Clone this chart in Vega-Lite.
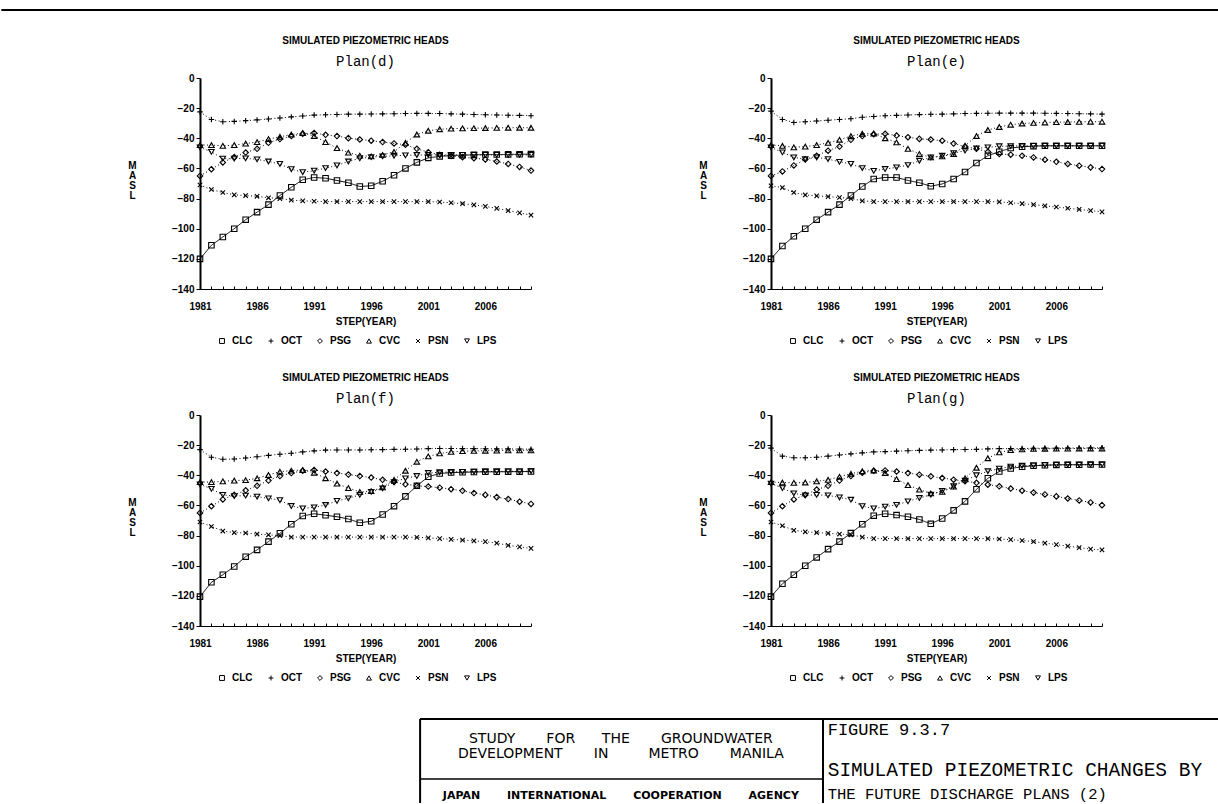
{
"$schema": "https://vega.github.io/schema/vega-lite/v6.json",
"background": "white",
"padding": {"left": 0, "top": 9, "right": 0, "bottom": 0},
"datasets": {"heads": [
{"p":"d","yr":1981,"CLC":-120,"OCT":-22.5,"PSG":-65,"CVC":-44.5,"PSN":-71,"LPS":-46},
{"p":"d","yr":1982,"CLC":-111,"OCT":-27.5,"PSG":-60.5,"CVC":-44.5,"PSN":-74,"LPS":-49},
{"p":"d","yr":1983,"CLC":-105.5,"OCT":-29,"PSG":-56,"CVC":-45,"PSN":-76,"LPS":-53.5},
{"p":"d","yr":1984,"CLC":-100,"OCT":-28.8,"PSG":-52.5,"CVC":-44.5,"PSN":-77.5,"LPS":-53.5},
{"p":"d","yr":1985,"CLC":-94,"OCT":-28.3,"PSG":-49.5,"CVC":-43.5,"PSN":-78,"LPS":-53.3},
{"p":"d","yr":1986,"CLC":-89,"OCT":-27.8,"PSG":-47,"CVC":-42.5,"PSN":-78.5,"LPS":-54},
{"p":"d","yr":1987,"CLC":-84,"OCT":-27.2,"PSG":-43,"CVC":-40.5,"PSN":-79.5,"LPS":-55.4},
{"p":"d","yr":1988,"CLC":-78,"OCT":-26.5,"PSG":-40.5,"CVC":-39,"PSN":-80,"LPS":-57},
{"p":"d","yr":1989,"CLC":-72.5,"OCT":-25.8,"PSG":-38.5,"CVC":-37.5,"PSN":-81,"LPS":-60.5},
{"p":"d","yr":1990,"CLC":-67.5,"OCT":-25.2,"PSG":-37,"CVC":-36.5,"PSN":-81.5,"LPS":-62.5},
{"p":"d","yr":1991,"CLC":-66,"OCT":-24.6,"PSG":-36.5,"CVC":-38.5,"PSN":-81.8,"LPS":-61.5},
{"p":"d","yr":1992,"CLC":-66.5,"OCT":-24.4,"PSG":-37.7,"CVC":-42.5,"PSN":-82,"LPS":-59.8},
{"p":"d","yr":1993,"CLC":-68,"OCT":-24.2,"PSG":-38.5,"CVC":-46.5,"PSN":-82,"LPS":-58},
{"p":"d","yr":1994,"CLC":-69.5,"OCT":-24,"PSG":-39.9,"CVC":-49.5,"PSN":-82,"LPS":-55.4},
{"p":"d","yr":1995,"CLC":-72,"OCT":-24,"PSG":-40.8,"CVC":-51.5,"PSN":-82,"LPS":-53.3},
{"p":"d","yr":1996,"CLC":-71.5,"OCT":-23.9,"PSG":-41.6,"CVC":-52,"PSN":-82,"LPS":-52.5},
{"p":"d","yr":1997,"CLC":-68.5,"OCT":-23.8,"PSG":-42.5,"CVC":-51,"PSN":-82,"LPS":-52},
{"p":"d","yr":1998,"CLC":-64.5,"OCT":-23.7,"PSG":-43.4,"CVC":-49,"PSN":-82,"LPS":-51.6},
{"p":"d","yr":1999,"CLC":-60,"OCT":-23.6,"PSG":-44.3,"CVC":-43,"PSN":-82,"LPS":-51.3},
{"p":"d","yr":2000,"CLC":-56,"OCT":-23.5,"PSG":-47,"CVC":-37.5,"PSN":-82,"LPS":-51.1},
{"p":"d","yr":2001,"CLC":-53,"OCT":-23.5,"PSG":-49.2,"CVC":-35,"PSN":-82,"LPS":-51},
{"p":"d","yr":2002,"CLC":-52,"OCT":-23.6,"PSG":-51,"CVC":-34,"PSN":-82.3,"LPS":-51},
{"p":"d","yr":2003,"CLC":-51.5,"OCT":-23.8,"PSG":-51.8,"CVC":-33.6,"PSN":-82.8,"LPS":-51},
{"p":"d","yr":2004,"CLC":-51.2,"OCT":-24,"PSG":-52.5,"CVC":-33.4,"PSN":-83.4,"LPS":-51},
{"p":"d","yr":2005,"CLC":-51,"OCT":-24.2,"PSG":-53.2,"CVC":-33.3,"PSN":-84.2,"LPS":-51},
{"p":"d","yr":2006,"CLC":-50.8,"OCT":-24.4,"PSG":-54,"CVC":-33.2,"PSN":-85.2,"LPS":-51},
{"p":"d","yr":2007,"CLC":-50.8,"OCT":-24.5,"PSG":-55.4,"CVC":-33.1,"PSN":-86.5,"LPS":-51},
{"p":"d","yr":2008,"CLC":-50.7,"OCT":-24.7,"PSG":-57,"CVC":-33,"PSN":-88,"LPS":-51},
{"p":"d","yr":2009,"CLC":-50.6,"OCT":-24.8,"PSG":-59,"CVC":-33,"PSN":-89.5,"LPS":-51},
{"p":"d","yr":2010,"CLC":-50.5,"OCT":-25,"PSG":-61.4,"CVC":-33,"PSN":-91,"LPS":-51},
{"p":"e","yr":1981,"CLC":-120,"OCT":-22,"PSG":-65,"CVC":-44.5,"PSN":-71.5,"LPS":-46},
{"p":"e","yr":1982,"CLC":-111.5,"OCT":-27.5,"PSG":-62,"CVC":-45,"PSN":-72.7,"LPS":-49.3},
{"p":"e","yr":1983,"CLC":-105,"OCT":-29.5,"PSG":-58,"CVC":-46,"PSN":-76,"LPS":-52.7},
{"p":"e","yr":1984,"CLC":-100,"OCT":-29,"PSG":-54,"CVC":-45.5,"PSN":-77.6,"LPS":-53.8},
{"p":"e","yr":1985,"CLC":-94,"OCT":-28.5,"PSG":-51.6,"CVC":-44.5,"PSN":-78.2,"LPS":-52.7},
{"p":"e","yr":1986,"CLC":-89,"OCT":-28,"PSG":-48.2,"CVC":-43,"PSN":-78.7,"LPS":-53.8},
{"p":"e","yr":1987,"CLC":-84,"OCT":-27.5,"PSG":-45.5,"CVC":-41,"PSN":-79.3,"LPS":-55.6},
{"p":"e","yr":1988,"CLC":-78,"OCT":-27,"PSG":-41,"CVC":-38.5,"PSN":-80,"LPS":-57},
{"p":"e","yr":1989,"CLC":-72,"OCT":-26,"PSG":-38.5,"CVC":-37,"PSN":-81.5,"LPS":-59.8},
{"p":"e","yr":1990,"CLC":-67,"OCT":-25.5,"PSG":-37.3,"CVC":-36.8,"PSN":-82,"LPS":-61.6},
{"p":"e","yr":1991,"CLC":-66,"OCT":-25,"PSG":-37,"CVC":-40,"PSN":-82,"LPS":-60.4},
{"p":"e","yr":1992,"CLC":-66,"OCT":-24.8,"PSG":-38.2,"CVC":-42.7,"PSN":-82,"LPS":-59.3},
{"p":"e","yr":1993,"CLC":-68,"OCT":-24.5,"PSG":-39.3,"CVC":-47,"PSN":-82,"LPS":-57.8},
{"p":"e","yr":1994,"CLC":-69.5,"OCT":-24.3,"PSG":-40.4,"CVC":-50.4,"PSN":-82,"LPS":-54.9},
{"p":"e","yr":1995,"CLC":-71.8,"OCT":-24.1,"PSG":-40.8,"CVC":-52.7,"PSN":-82,"LPS":-52.7},
{"p":"e","yr":1996,"CLC":-70.3,"OCT":-24,"PSG":-41.6,"CVC":-52,"PSN":-82,"LPS":-51.6},
{"p":"e","yr":1997,"CLC":-67,"OCT":-23.8,"PSG":-43.5,"CVC":-50.4,"PSN":-82,"LPS":-49.8},
{"p":"e","yr":1998,"CLC":-62.4,"OCT":-23.6,"PSG":-45.5,"CVC":-45,"PSN":-82,"LPS":-48.2},
{"p":"e","yr":1999,"CLC":-56.4,"OCT":-23.5,"PSG":-47,"CVC":-38.5,"PSN":-82,"LPS":-46.7},
{"p":"e","yr":2000,"CLC":-51.6,"OCT":-23.4,"PSG":-49,"CVC":-34.5,"PSN":-82,"LPS":-46},
{"p":"e","yr":2001,"CLC":-48.9,"OCT":-23.3,"PSG":-50.4,"CVC":-32.5,"PSN":-82.2,"LPS":-45.3},
{"p":"e","yr":2002,"CLC":-46.5,"OCT":-23.3,"PSG":-50.9,"CVC":-31,"PSN":-82.8,"LPS":-45.2},
{"p":"e","yr":2003,"CLC":-45.6,"OCT":-23.3,"PSG":-51.6,"CVC":-30.2,"PSN":-83.4,"LPS":-45},
{"p":"e","yr":2004,"CLC":-45.2,"OCT":-23.3,"PSG":-52.7,"CVC":-29.8,"PSN":-84,"LPS":-45},
{"p":"e","yr":2005,"CLC":-45,"OCT":-23.4,"PSG":-54.2,"CVC":-29.5,"PSN":-84.8,"LPS":-45},
{"p":"e","yr":2006,"CLC":-45,"OCT":-23.5,"PSG":-55.6,"CVC":-29.3,"PSN":-85.6,"LPS":-45},
{"p":"e","yr":2007,"CLC":-45,"OCT":-23.6,"PSG":-57,"CVC":-29.2,"PSN":-86.4,"LPS":-45},
{"p":"e","yr":2008,"CLC":-45,"OCT":-23.7,"PSG":-58.2,"CVC":-29.1,"PSN":-87.2,"LPS":-45},
{"p":"e","yr":2009,"CLC":-45,"OCT":-23.8,"PSG":-59.3,"CVC":-29,"PSN":-88,"LPS":-45},
{"p":"e","yr":2010,"CLC":-45,"OCT":-24,"PSG":-60.4,"CVC":-29,"PSN":-88.8,"LPS":-44.9},
{"p":"f","yr":1981,"CLC":-120.5,"OCT":-23,"PSG":-65,"CVC":-44.5,"PSN":-71,"LPS":-46},
{"p":"f","yr":1982,"CLC":-111,"OCT":-28,"PSG":-60.5,"CVC":-44.5,"PSN":-74,"LPS":-49},
{"p":"f","yr":1983,"CLC":-106,"OCT":-29.4,"PSG":-56,"CVC":-44,"PSN":-77,"LPS":-53},
{"p":"f","yr":1984,"CLC":-100.5,"OCT":-29.2,"PSG":-53,"CVC":-43.5,"PSN":-78,"LPS":-53.8},
{"p":"f","yr":1985,"CLC":-94,"OCT":-28.5,"PSG":-50,"CVC":-43.2,"PSN":-78.3,"LPS":-53.5},
{"p":"f","yr":1986,"CLC":-89.5,"OCT":-27.7,"PSG":-47,"CVC":-42,"PSN":-79,"LPS":-54.2},
{"p":"f","yr":1987,"CLC":-84,"OCT":-26.8,"PSG":-43.5,"CVC":-39.8,"PSN":-79.5,"LPS":-55.3},
{"p":"f","yr":1988,"CLC":-78.5,"OCT":-26,"PSG":-40.5,"CVC":-37.6,"PSN":-80,"LPS":-56.5},
{"p":"f","yr":1989,"CLC":-72.5,"OCT":-25.4,"PSG":-38.5,"CVC":-36.9,"PSN":-81,"LPS":-60.4},
{"p":"f","yr":1990,"CLC":-67,"OCT":-24.5,"PSG":-37,"CVC":-36.5,"PSN":-81,"LPS":-62},
{"p":"f","yr":1991,"CLC":-65.5,"OCT":-23.8,"PSG":-36.5,"CVC":-38.3,"PSN":-81,"LPS":-61.3},
{"p":"f","yr":1992,"CLC":-66.5,"OCT":-23.3,"PSG":-37.5,"CVC":-42,"PSN":-81,"LPS":-59.7},
{"p":"f","yr":1993,"CLC":-67.5,"OCT":-23.2,"PSG":-38.5,"CVC":-45.5,"PSN":-81,"LPS":-57},
{"p":"f","yr":1994,"CLC":-69,"OCT":-23.2,"PSG":-39.5,"CVC":-48.5,"PSN":-81,"LPS":-55.3},
{"p":"f","yr":1995,"CLC":-71.5,"OCT":-23.2,"PSG":-40.5,"CVC":-51,"PSN":-81,"LPS":-53},
{"p":"f","yr":1996,"CLC":-70.5,"OCT":-23.1,"PSG":-41.5,"CVC":-50.5,"PSN":-81,"LPS":-51},
{"p":"f","yr":1997,"CLC":-66,"OCT":-23,"PSG":-43,"CVC":-48,"PSN":-81,"LPS":-48.7},
{"p":"f","yr":1998,"CLC":-60.5,"OCT":-22.8,"PSG":-44.5,"CVC":-43,"PSN":-81,"LPS":-44.5},
{"p":"f","yr":1999,"CLC":-54,"OCT":-22.7,"PSG":-46,"CVC":-37,"PSN":-81,"LPS":-42},
{"p":"f","yr":2000,"CLC":-47,"OCT":-22.6,"PSG":-47,"CVC":-31,"PSN":-81.2,"LPS":-40.5},
{"p":"f","yr":2001,"CLC":-41,"OCT":-22.3,"PSG":-47.5,"CVC":-27.5,"PSN":-81.5,"LPS":-38.5},
{"p":"f","yr":2002,"CLC":-38.8,"OCT":-22.2,"PSG":-48.2,"CVC":-25.5,"PSN":-82,"LPS":-38},
{"p":"f","yr":2003,"CLC":-38.2,"OCT":-22.2,"PSG":-49.2,"CVC":-24.5,"PSN":-82.5,"LPS":-37.8},
{"p":"f","yr":2004,"CLC":-38,"OCT":-22.3,"PSG":-50.3,"CVC":-24,"PSN":-83,"LPS":-37.7},
{"p":"f","yr":2005,"CLC":-37.8,"OCT":-22.3,"PSG":-51.8,"CVC":-23.8,"PSN":-83.5,"LPS":-37.6},
{"p":"f","yr":2006,"CLC":-37.7,"OCT":-22.4,"PSG":-53,"CVC":-23.7,"PSN":-84,"LPS":-37.5},
{"p":"f","yr":2007,"CLC":-37.7,"OCT":-22.5,"PSG":-54.5,"CVC":-23.6,"PSN":-85,"LPS":-37.5},
{"p":"f","yr":2008,"CLC":-37.6,"OCT":-22.5,"PSG":-55.8,"CVC":-23.5,"PSN":-86.5,"LPS":-37.4},
{"p":"f","yr":2009,"CLC":-37.6,"OCT":-22.6,"PSG":-57.5,"CVC":-23.5,"PSN":-87.5,"LPS":-37.4},
{"p":"f","yr":2010,"CLC":-37.5,"OCT":-22.7,"PSG":-59,"CVC":-23.5,"PSN":-88.5,"LPS":-37.3},
{"p":"g","yr":1981,"CLC":-120.5,"OCT":-22,"PSG":-65,"CVC":-44.5,"PSN":-71,"LPS":-45.5},
{"p":"g","yr":1982,"CLC":-112,"OCT":-27.3,"PSG":-60.5,"CVC":-44.8,"PSN":-73.5,"LPS":-48.5},
{"p":"g","yr":1983,"CLC":-106,"OCT":-28.4,"PSG":-56,"CVC":-45,"PSN":-76.5,"LPS":-52},
{"p":"g","yr":1984,"CLC":-100,"OCT":-28.4,"PSG":-53,"CVC":-44.8,"PSN":-77.5,"LPS":-53.3},
{"p":"g","yr":1985,"CLC":-94.5,"OCT":-28,"PSG":-49.5,"CVC":-44,"PSN":-78,"LPS":-53},
{"p":"g","yr":1986,"CLC":-89,"OCT":-27.3,"PSG":-47,"CVC":-43,"PSN":-78.5,"LPS":-53.3},
{"p":"g","yr":1987,"CLC":-84,"OCT":-26.5,"PSG":-43.5,"CVC":-41,"PSN":-79,"LPS":-54.7},
{"p":"g","yr":1988,"CLC":-78.4,"OCT":-25.8,"PSG":-40.5,"CVC":-39,"PSN":-79.5,"LPS":-56.2},
{"p":"g","yr":1989,"CLC":-72.5,"OCT":-25.1,"PSG":-38.3,"CVC":-37.3,"PSN":-81,"LPS":-60.5},
{"p":"g","yr":1990,"CLC":-66.8,"OCT":-24.5,"PSG":-37,"CVC":-36.8,"PSN":-82,"LPS":-62},
{"p":"g","yr":1991,"CLC":-65.5,"OCT":-24.3,"PSG":-36.8,"CVC":-38.5,"PSN":-82,"LPS":-60.8},
{"p":"g","yr":1992,"CLC":-66.4,"OCT":-24,"PSG":-37.5,"CVC":-42.5,"PSN":-82,"LPS":-59.6},
{"p":"g","yr":1993,"CLC":-67.5,"OCT":-23.7,"PSG":-38.5,"CVC":-46.5,"PSN":-82,"LPS":-57.3},
{"p":"g","yr":1994,"CLC":-69.3,"OCT":-23.5,"PSG":-39.6,"CVC":-49.5,"PSN":-82,"LPS":-55.1},
{"p":"g","yr":1995,"CLC":-72.2,"OCT":-23.3,"PSG":-40.7,"CVC":-52,"PSN":-82,"LPS":-52.9},
{"p":"g","yr":1996,"CLC":-68.7,"OCT":-23.2,"PSG":-41.8,"CVC":-51,"PSN":-82,"LPS":-50.3},
{"p":"g","yr":1997,"CLC":-63.3,"OCT":-23,"PSG":-42.9,"CVC":-47.5,"PSN":-82,"LPS":-47.3},
{"p":"g","yr":1998,"CLC":-57.3,"OCT":-22.9,"PSG":-44,"CVC":-42,"PSN":-82,"LPS":-43.6},
{"p":"g","yr":1999,"CLC":-49.3,"OCT":-22.8,"PSG":-45,"CVC":-35,"PSN":-82,"LPS":-40},
{"p":"g","yr":2000,"CLC":-42,"OCT":-22.5,"PSG":-46.2,"CVC":-28.7,"PSN":-82,"LPS":-37.3},
{"p":"g","yr":2001,"CLC":-37.5,"OCT":-22.3,"PSG":-47.3,"CVC":-24.8,"PSN":-82.3,"LPS":-35.6},
{"p":"g","yr":2002,"CLC":-35.5,"OCT":-22.3,"PSG":-48.8,"CVC":-23.3,"PSN":-82.7,"LPS":-34.3},
{"p":"g","yr":2003,"CLC":-34.3,"OCT":-22.2,"PSG":-50.2,"CVC":-22.8,"PSN":-83.3,"LPS":-33.7},
{"p":"g","yr":2004,"CLC":-33.7,"OCT":-22.1,"PSG":-51.5,"CVC":-22.5,"PSN":-84,"LPS":-33.4},
{"p":"g","yr":2005,"CLC":-33.3,"OCT":-22,"PSG":-52.7,"CVC":-22.4,"PSN":-85,"LPS":-33.2},
{"p":"g","yr":2006,"CLC":-33.1,"OCT":-22,"PSG":-54,"CVC":-22.3,"PSN":-86,"LPS":-33.1},
{"p":"g","yr":2007,"CLC":-33,"OCT":-21.9,"PSG":-55.4,"CVC":-22.3,"PSN":-87,"LPS":-33},
{"p":"g","yr":2008,"CLC":-33,"OCT":-21.9,"PSG":-56.7,"CVC":-22.2,"PSN":-88,"LPS":-33},
{"p":"g","yr":2009,"CLC":-32.9,"OCT":-21.8,"PSG":-58,"CVC":-22.2,"PSN":-89,"LPS":-32.9},
{"p":"g","yr":2010,"CLC":-32.9,"OCT":-21.8,"PSG":-59.8,"CVC":-22.2,"PSN":-89.5,"LPS":-32.9}
]},
"config": {
  "view": {"stroke": null},
  "font": "Liberation Sans",
  "axis": {"labelFont": "Liberation Sans", "labelFontSize": 10, "labelFontWeight": "bold", "labelColor": "black", "titleFont": "Liberation Sans", "titleFontSize": 10, "titleFontWeight": "bold", "titleColor": "black", "domainColor": "black", "tickColor": "black", "grid": false},
  "axisX": {"tickSize": -3, "labelPadding": 15, "titlePadding": 5, "domainWidth": 1, "labelFlush": false, "labelOverlap": false},
  "axisY": {"tickSize": 4, "labelPadding": 2, "domainWidth": 2, "titleAngle": 0, "titleX": -68, "titleY": 87, "titleAlign": "center", "titleBaseline": "middle", "titleLineHeight": 10},
  "title": {"font": "Liberation Sans", "fontSize": 10, "fontWeight": "bold", "color": "black", "subtitleFont": "Liberation Mono", "subtitleFontSize": 14, "subtitleColor": "black", "subtitleFontWeight": "normal", "anchor": "middle", "frame": "group", "offset": 4, "subtitlePadding": 9}
},
"resolve": {"scale": {"shape": "independent"}, "legend": {"shape": "independent"}},
"spacing": 25,
"vconcat": [
 {"width": 1019, "height": 1,
  "data": {"values": [{}]},
  "mark": {"type": "rule", "color": "black", "strokeWidth": 2},
  "encoding": {"x": {"datum": -19.5, "type": "quantitative", "scale": {"domain": [0, 100], "nice": false, "zero": false}, "axis": null}, "x2": {"datum": 100}, "y": {"datum": 1, "type": "quantitative", "scale": {"domain": [0, 1], "nice": false, "zero": false}, "axis": null}}},
 {"spacing": 35, "resolve": {"scale": {"shape": "independent"}, "legend": {"shape": "independent"}}, "vconcat": [
 {"spacing": 27, "resolve": {"scale": {"shape": "independent"}, "legend": {"shape": "independent"}}, "vconcat": [
 {"spacing": 162, "resolve": {"scale": {"shape": "independent"}, "legend": {"shape": "independent"}}, "hconcat": [
  {"width": 331, "height": 211,
   "title": {"text": "SIMULATED PIEZOMETRIC HEADS", "subtitle": "Plan(d)"},
   "encoding": {
     "x": {"field": "yr", "type": "quantitative", "scale": {"domain": [1981, 2010], "nice": false, "zero": false}, "axis": {"title": "STEP(YEAR)", "format": "d", "values": [1981,1982,1983,1984,1985,1986,1987,1988,1989,1990,1991,1992,1993,1994,1995,1996,1997,1998,1999,2000,2001,2002,2003,2004,2005,2006,2007,2008,2009,2010], "labelExpr": "(datum.value - 1981) % 5 === 0 ? datum.label : ''"}},
     "y": {"field": "head", "type": "quantitative", "scale": {"domain": [-140, 0], "nice": false, "zero": false}, "axis": {"title": ["M","A","S","L"], "values": [0,-20,-40,-60,-80,-100,-120,-140]}}
   },
   "layer": [
     {"data": {"values": [{}]}, "mark": {"type": "rule", "color": "black", "strokeWidth": 1.5}, "encoding": {"x": {"datum": 1981}, "x2": {"datum": 2010}, "y": {"datum": 0}}},
     {"data": {"name": "heads"},
      "transform": [{"filter": "datum.p === 'd'"}, {"fold": ["CLC","OCT","PSG","CVC","PSN","LPS"], "as": ["series","head"]}],
      "layer": [
        {"mark": {"type": "line", "color": "black", "strokeWidth": 1}, "encoding": {"detail": {"field": "series"}, "strokeDash": {"condition": {"test": "datum.series === 'CLC'", "value": [1,0]}, "value": [1,2.5]}}},
        {"mark": {"type": "point", "filled": false, "color": "black", "size": 30, "strokeWidth": 1.1, "opacity": 1}, "encoding": {"shape": {"field": "series", "type": "nominal", "scale": {"domain": ["CLC","OCT","PSG","CVC","PSN","LPS"], "range": ["square","M-1,0L1,0M0,-1L0,1","diamond","triangle-up","M-0.8,-0.8L0.8,0.8M-0.8,0.8L0.8,-0.8","triangle-down"]}, "legend": {"title": null, "orient": "none", "legendX": 17, "legendY": 258, "direction": "horizontal", "columns": 6, "symbolSize": 24, "symbolStrokeWidth": 1, "symbolStrokeColor": "black", "labelFont": "Liberation Sans", "labelFontSize": 10, "labelFontWeight": "bold", "labelColor": "black", "columnPadding": 12, "gridAlign": "all", "labelOffset": 5}}}}
      ]}
   ]},
  {"width": 331, "height": 211,
   "title": {"text": "SIMULATED PIEZOMETRIC HEADS", "subtitle": "Plan(e)"},
   "encoding": {
     "x": {"field": "yr", "type": "quantitative", "scale": {"domain": [1981, 2010], "nice": false, "zero": false}, "axis": {"title": "STEP(YEAR)", "format": "d", "values": [1981,1982,1983,1984,1985,1986,1987,1988,1989,1990,1991,1992,1993,1994,1995,1996,1997,1998,1999,2000,2001,2002,2003,2004,2005,2006,2007,2008,2009,2010], "labelExpr": "(datum.value - 1981) % 5 === 0 ? datum.label : ''"}},
     "y": {"field": "head", "type": "quantitative", "scale": {"domain": [-140, 0], "nice": false, "zero": false}, "axis": {"title": ["M","A","S","L"], "values": [0,-20,-40,-60,-80,-100,-120,-140]}}
   },
   "layer": [
     {"data": {"values": [{}]}, "mark": {"type": "rule", "color": "black", "strokeWidth": 1.5}, "encoding": {"x": {"datum": 1981}, "x2": {"datum": 2010}, "y": {"datum": 0}}},
     {"data": {"name": "heads"},
      "transform": [{"filter": "datum.p === 'e'"}, {"fold": ["CLC","OCT","PSG","CVC","PSN","LPS"], "as": ["series","head"]}],
      "layer": [
        {"mark": {"type": "line", "color": "black", "strokeWidth": 1}, "encoding": {"detail": {"field": "series"}, "strokeDash": {"condition": {"test": "datum.series === 'CLC'", "value": [1,0]}, "value": [1,2.5]}}},
        {"mark": {"type": "point", "filled": false, "color": "black", "size": 30, "strokeWidth": 1.1, "opacity": 1}, "encoding": {"shape": {"field": "series", "type": "nominal", "scale": {"domain": ["CLC","OCT","PSG","CVC","PSN","LPS"], "range": ["square","M-1,0L1,0M0,-1L0,1","diamond","triangle-up","M-0.8,-0.8L0.8,0.8M-0.8,0.8L0.8,-0.8","triangle-down"]}, "legend": {"title": null, "orient": "none", "legendX": 17, "legendY": 258, "direction": "horizontal", "columns": 6, "symbolSize": 24, "symbolStrokeWidth": 1, "symbolStrokeColor": "black", "labelFont": "Liberation Sans", "labelFontSize": 10, "labelFontWeight": "bold", "labelColor": "black", "columnPadding": 12, "gridAlign": "all", "labelOffset": 5}}}}
      ]}
   ]}
 ]},
 {"spacing": 162, "resolve": {"scale": {"shape": "independent"}, "legend": {"shape": "independent"}}, "hconcat": [
  {"width": 331, "height": 211,
   "title": {"text": "SIMULATED PIEZOMETRIC HEADS", "subtitle": "Plan(f)"},
   "encoding": {
     "x": {"field": "yr", "type": "quantitative", "scale": {"domain": [1981, 2010], "nice": false, "zero": false}, "axis": {"title": "STEP(YEAR)", "format": "d", "values": [1981,1982,1983,1984,1985,1986,1987,1988,1989,1990,1991,1992,1993,1994,1995,1996,1997,1998,1999,2000,2001,2002,2003,2004,2005,2006,2007,2008,2009,2010], "labelExpr": "(datum.value - 1981) % 5 === 0 ? datum.label : ''"}},
     "y": {"field": "head", "type": "quantitative", "scale": {"domain": [-140, 0], "nice": false, "zero": false}, "axis": {"title": ["M","A","S","L"], "values": [0,-20,-40,-60,-80,-100,-120,-140]}}
   },
   "layer": [
     {"data": {"values": [{}]}, "mark": {"type": "rule", "color": "black", "strokeWidth": 1.5}, "encoding": {"x": {"datum": 1981}, "x2": {"datum": 2010}, "y": {"datum": 0}}},
     {"data": {"name": "heads"},
      "transform": [{"filter": "datum.p === 'f'"}, {"fold": ["CLC","OCT","PSG","CVC","PSN","LPS"], "as": ["series","head"]}],
      "layer": [
        {"mark": {"type": "line", "color": "black", "strokeWidth": 1}, "encoding": {"detail": {"field": "series"}, "strokeDash": {"condition": {"test": "datum.series === 'CLC'", "value": [1,0]}, "value": [1,2.5]}}},
        {"mark": {"type": "point", "filled": false, "color": "black", "size": 30, "strokeWidth": 1.1, "opacity": 1}, "encoding": {"shape": {"field": "series", "type": "nominal", "scale": {"domain": ["CLC","OCT","PSG","CVC","PSN","LPS"], "range": ["square","M-1,0L1,0M0,-1L0,1","diamond","triangle-up","M-0.8,-0.8L0.8,0.8M-0.8,0.8L0.8,-0.8","triangle-down"]}, "legend": {"title": null, "orient": "none", "legendX": 17, "legendY": 258, "direction": "horizontal", "columns": 6, "symbolSize": 24, "symbolStrokeWidth": 1, "symbolStrokeColor": "black", "labelFont": "Liberation Sans", "labelFontSize": 10, "labelFontWeight": "bold", "labelColor": "black", "columnPadding": 12, "gridAlign": "all", "labelOffset": 5}}}}
      ]}
   ]},
  {"width": 331, "height": 211,
   "title": {"text": "SIMULATED PIEZOMETRIC HEADS", "subtitle": "Plan(g)"},
   "encoding": {
     "x": {"field": "yr", "type": "quantitative", "scale": {"domain": [1981, 2010], "nice": false, "zero": false}, "axis": {"title": "STEP(YEAR)", "format": "d", "values": [1981,1982,1983,1984,1985,1986,1987,1988,1989,1990,1991,1992,1993,1994,1995,1996,1997,1998,1999,2000,2001,2002,2003,2004,2005,2006,2007,2008,2009,2010], "labelExpr": "(datum.value - 1981) % 5 === 0 ? datum.label : ''"}},
     "y": {"field": "head", "type": "quantitative", "scale": {"domain": [-140, 0], "nice": false, "zero": false}, "axis": {"title": ["M","A","S","L"], "values": [0,-20,-40,-60,-80,-100,-120,-140]}}
   },
   "layer": [
     {"data": {"values": [{}]}, "mark": {"type": "rule", "color": "black", "strokeWidth": 1.5}, "encoding": {"x": {"datum": 1981}, "x2": {"datum": 2010}, "y": {"datum": 0}}},
     {"data": {"name": "heads"},
      "transform": [{"filter": "datum.p === 'g'"}, {"fold": ["CLC","OCT","PSG","CVC","PSN","LPS"], "as": ["series","head"]}],
      "layer": [
        {"mark": {"type": "line", "color": "black", "strokeWidth": 1}, "encoding": {"detail": {"field": "series"}, "strokeDash": {"condition": {"test": "datum.series === 'CLC'", "value": [1,0]}, "value": [1,2.5]}}},
        {"mark": {"type": "point", "filled": false, "color": "black", "size": 30, "strokeWidth": 1.1, "opacity": 1}, "encoding": {"shape": {"field": "series", "type": "nominal", "scale": {"domain": ["CLC","OCT","PSG","CVC","PSN","LPS"], "range": ["square","M-1,0L1,0M0,-1L0,1","diamond","triangle-up","M-0.8,-0.8L0.8,0.8M-0.8,0.8L0.8,-0.8","triangle-down"]}, "legend": {"title": null, "orient": "none", "legendX": 17, "legendY": 258, "direction": "horizontal", "columns": 6, "symbolSize": 24, "symbolStrokeWidth": 1, "symbolStrokeColor": "black", "labelFont": "Liberation Sans", "labelFontSize": 10, "labelFontWeight": "bold", "labelColor": "black", "columnPadding": 12, "gridAlign": "all", "labelOffset": 5}}}}
      ]}
   ]}
 ]}
 ]},
 {"width": 1019, "height": 84,
  "data": {"values": [{}]},
  "layer": [
    {"mark": {"type": "rule", "color": "black", "strokeWidth": 2}, "encoding": {"x": {"datum": 21.6, "type": "quantitative", "scale": {"domain": [0, 100], "nice": false, "zero": false}, "axis": null}, "x2": {"datum": 100}, "y": {"datum": 100, "type": "quantitative", "scale": {"domain": [0, 100], "nice": false, "zero": false}, "axis": null}}},
    {"mark": {"type": "rule", "color": "black", "strokeWidth": 2}, "encoding": {"x": {"datum": 21.6, "type": "quantitative", "scale": {"domain": [0, 100], "nice": false, "zero": false}, "axis": null}, "y": {"datum": 100, "type": "quantitative", "scale": {"domain": [0, 100], "nice": false, "zero": false}, "axis": null}, "y2": {"datum": 0}}},
    {"mark": {"type": "rule", "color": "black", "strokeWidth": 2}, "encoding": {"x": {"datum": 61.14, "type": "quantitative", "scale": {"domain": [0, 100], "nice": false, "zero": false}, "axis": null}, "y": {"datum": 100, "type": "quantitative", "scale": {"domain": [0, 100], "nice": false, "zero": false}, "axis": null}, "y2": {"datum": 0}}},
    {"mark": {"type": "rule", "color": "black", "strokeWidth": 1.5}, "encoding": {"x": {"datum": 21.6, "type": "quantitative", "scale": {"domain": [0, 100], "nice": false, "zero": false}, "axis": null}, "x2": {"datum": 61.14}, "y": {"datum": 28.6, "type": "quantitative", "scale": {"domain": [0, 100], "nice": false, "zero": false}, "axis": null}}},
    {"mark": {"type": "text", "font": "DejaVu Sans", "fontSize": 14, "color": "black", "align": "center", "baseline": "middle", "text": "STUDY\u00a0\u00a0\u00a0\u00a0\u00a0\u00a0\u00a0FOR\u00a0\u00a0\u00a0\u00a0\u00a0\u00a0THE\u00a0\u00a0\u00a0\u00a0\u00a0\u00a0\u00a0GROUNDWATER"}, "encoding": {"x": {"datum": 41.3, "type": "quantitative", "scale": {"domain": [0, 100], "nice": false, "zero": false}, "axis": null}, "y": {"datum": 76.2, "type": "quantitative", "scale": {"domain": [0, 100], "nice": false, "zero": false}, "axis": null}}},
    {"mark": {"type": "text", "font": "DejaVu Sans", "fontSize": 14, "color": "black", "align": "center", "baseline": "middle", "text": "DEVELOPMENT\u00a0\u00a0\u00a0\u00a0\u00a0\u00a0\u00a0IN\u00a0\u00a0\u00a0\u00a0\u00a0\u00a0\u00a0\u00a0\u00a0METRO\u00a0\u00a0\u00a0\u00a0\u00a0\u00a0\u00a0MANILA"}, "encoding": {"x": {"datum": 41.3, "type": "quantitative", "scale": {"domain": [0, 100], "nice": false, "zero": false}, "axis": null}, "y": {"datum": 58.3, "type": "quantitative", "scale": {"domain": [0, 100], "nice": false, "zero": false}, "axis": null}}},
    {"mark": {"type": "text", "font": "DejaVu Sans", "fontSize": 11, "fontWeight": "bold", "color": "black", "align": "center", "baseline": "middle", "text": "JAPAN\u00a0\u00a0\u00a0\u00a0\u00a0\u00a0\u00a0INTERNATIONAL\u00a0\u00a0\u00a0\u00a0\u00a0\u00a0\u00a0COOPERATION\u00a0\u00a0\u00a0\u00a0\u00a0\u00a0\u00a0AGENCY"}, "encoding": {"x": {"datum": 41.3, "type": "quantitative", "scale": {"domain": [0, 100], "nice": false, "zero": false}, "axis": null}, "y": {"datum": 8.5, "type": "quantitative", "scale": {"domain": [0, 100], "nice": false, "zero": false}, "axis": null}}},
    {"mark": {"type": "text", "font": "Liberation Mono", "fontSize": 17, "color": "black", "align": "left", "baseline": "middle", "text": "FIGURE 9.3.7"}, "encoding": {"x": {"datum": 61.6, "type": "quantitative", "scale": {"domain": [0, 100], "nice": false, "zero": false}, "axis": null}, "y": {"datum": 86.9, "type": "quantitative", "scale": {"domain": [0, 100], "nice": false, "zero": false}, "axis": null}}},
    {"mark": {"type": "text", "font": "Liberation Mono", "fontSize": 19.5, "color": "black", "align": "left", "baseline": "middle", "text": "SIMULATED PIEZOMETRIC CHANGES BY"}, "encoding": {"x": {"datum": 61.6, "type": "quantitative", "scale": {"domain": [0, 100], "nice": false, "zero": false}, "axis": null}, "y": {"datum": 39.3, "type": "quantitative", "scale": {"domain": [0, 100], "nice": false, "zero": false}, "axis": null}}},
    {"mark": {"type": "text", "font": "Liberation Mono", "fontSize": 15.5, "color": "black", "align": "left", "baseline": "middle", "text": "THE FUTURE DISCHARGE PLANS (2)"}, "encoding": {"x": {"datum": 61.6, "type": "quantitative", "scale": {"domain": [0, 100], "nice": false, "zero": false}, "axis": null}, "y": {"datum": 10.7, "type": "quantitative", "scale": {"domain": [0, 100], "nice": false, "zero": false}, "axis": null}}}
  ]}
 ]}
]
}
